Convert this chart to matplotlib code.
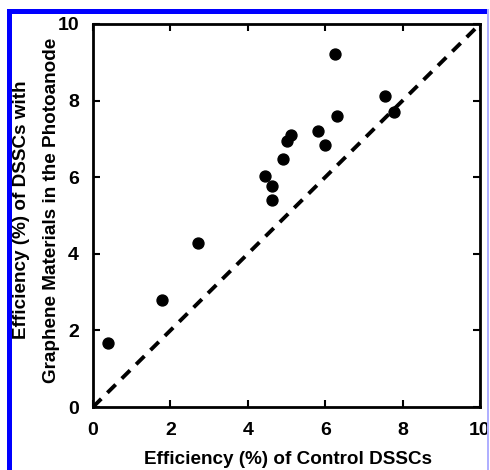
import matplotlib
matplotlib.use("Agg")
import matplotlib.pyplot as plt
from matplotlib.patches import Rectangle

plt.rcParams['font.family'] = ['Liberation Sans', 'DejaVu Sans']

control_eff = [0.39, 1.78, 2.71, 4.44, 4.63, 4.62, 4.90, 5.00, 5.12, 5.81, 5.99, 6.25, 6.31, 7.55, 7.78]
graphene_eff = [1.67, 2.79, 4.28, 6.04, 5.77, 5.40, 6.48, 6.95, 7.09, 7.20, 6.85, 9.22, 7.59, 8.12, 7.70]
ticks = [0, 2, 4, 6, 8, 10]
xlabel = "Efficiency (%) of Control DSSCs"
ylabel_lines = ["Efficiency (%) of DSSCs with", "Graphene Materials in the Photoanode"]

W, H = 490, 470
fig = plt.figure(figsize=(W/100, H/100), dpi=100)
ax = fig.add_axes([93/W, 1 - 407/H, (480-93)/W, (407-24)/H])

ax.plot([0, 10], [0, 10], color='black', lw=2.8, linestyle=(0, (3, 2.2)), zorder=2)
ax.scatter(control_eff, graphene_eff, s=62, color='black', zorder=3)

ax.set_xlim(0, 10)
ax.set_ylim(0, 10)
ax.set_xticks(ticks)
ax.set_yticks(ticks)
ax.set_xticklabels([str(t) for t in ticks], fontsize=14, fontweight='bold')
ax.set_yticklabels([str(t) for t in ticks], fontsize=14, fontweight='bold')
ax.tick_params(axis='x', direction='in', length=5, width=1.5, top=True, pad=11)
ax.tick_params(axis='y', direction='in', length=5, width=1.5, right=True, pad=10)
for sp in ax.spines.values():
    sp.set_linewidth(2)

fig.text(288/W, 1 - 459/H, xlabel, fontsize=13.6, fontweight='bold', ha='center', va='center')
fig.text(22/W, 1 - 210/H, ylabel_lines[0], fontsize=13.6, fontweight='bold',
         rotation=90, ha='center', va='center')
fig.text(52/W, 1 - 210/H, ylabel_lines[1], fontsize=13.6, fontweight='bold',
         rotation=90, ha='center', va='center')

# blue frame
fig.patches.append(Rectangle((7/W, 1 - 14/H), (487-7)/W, 5/H, transform=fig.transFigure,
                             facecolor='#0000ff', edgecolor='none', zorder=10))
fig.patches.append(Rectangle((7/W, 0), 5/W, (470-9)/H, transform=fig.transFigure,
                             facecolor='#0000ff', edgecolor='none', zorder=10))
fig.patches.append(Rectangle((487/W, 0), 1.5/W, (470-9)/H, transform=fig.transFigure,
                             facecolor='#b0b0ff', edgecolor='none', zorder=10))

fig.savefig("out.png", dpi=100)
